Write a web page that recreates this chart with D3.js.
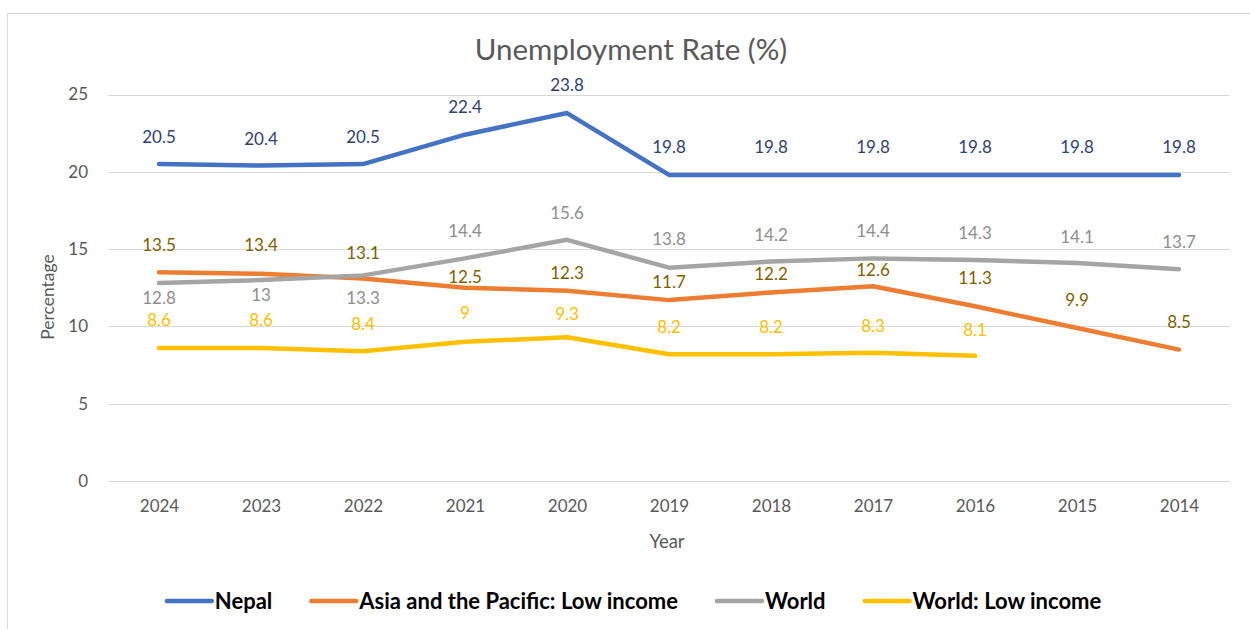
<!DOCTYPE html>
<html>
<head>
<meta charset="utf-8">
<script src="https://cdn.jsdelivr.net/npm/d3@7"></script>
<style>
  html, body { margin: 0; padding: 0; background: #fff; }
  svg { display: block; }
</style>
</head>
<body>
<svg id="chart" width="1250" height="629"></svg>
<script>
// ---- Data ----
const years = ["2024","2023","2022","2021","2020","2019","2018","2017","2016","2015","2014"];
const nepal = [20.5, 20.4, 20.5, 22.4, 23.8, 19.8, 19.8, 19.8, 19.8, 19.8, 19.8];
const asiaPacificLow = [13.5, 13.4, 13.1, 12.5, 12.3, 11.7, 12.2, 12.6, 11.3, 9.9, 8.5];
const world = [12.8, 13, 13.3, 14.4, 15.6, 13.8, 14.2, 14.4, 14.3, 14.1, 13.7];
const worldLow = [8.6, 8.6, 8.4, 9, 9.3, 8.2, 8.2, 8.3, 8.1, null, null];
const seriesNames = ["Nepal", "Asia and the Pacific: Low income", "World", "World: Low income"];
const yTicks = [0, 5, 10, 15, 20, 25];

// ---- Styling / label placement (not data) ----
const lineColors = ["#4472C4", "#ED7D31", "#A5A5A5", "#FFC000"];
const labelColors = ["#2F4170", "#7F6000", "#8E8E8E", "#FFC000"];
// vertical offset of label centre relative to point (px)
const labelOffsets = [
  [-27,-27,-27,-28,-28,-28,-28,-28,-28,-28,-28],
  [-27,-29,-26,-11,-18,-18,-19,-16,-28,-28,-28],
  [ 15, 15, 22,-27,-27,-29,-27,-27,-27,-26,-27],
  [-28,-28,-27,-29,-23,-27,-27,-27,-26,-27,-27]
];

const allSeries = [nepal, asiaPacificLow, world, worldLow];

const svg = d3.select("#chart");
const FONT = "Lato, 'Open Sans', sans-serif";

// frame border
svg.append("rect")
  .attr("x", 7.5).attr("y", 13.5)
  .attr("width", 1260).attr("height", 640)
  .attr("fill", "none").attr("stroke", "#d9d9d9").attr("stroke-width", 1);

const x = d3.scalePoint().domain(years).range([108, 1230]).padding(0.5);
const y = d3.scaleLinear().domain([0, 25]).range([481, 94.5]);

// gridlines
svg.append("g").selectAll("line").data(yTicks).join("line")
  .attr("x1", 108).attr("x2", 1230)
  .attr("y1", d => Math.round(y(d)) + 0.5).attr("y2", d => Math.round(y(d)) + 0.5)
  .attr("stroke", "#d9d9d9").attr("stroke-width", 1);

// y axis labels
const yAxis = d3.axisLeft(y).tickValues(yTicks).tickSize(0).tickPadding(0);
const gy = svg.append("g").attr("transform", "translate(88,0)").call(yAxis);
gy.select(".domain").remove();
gy.selectAll("text").attr("font-family", FONT).attr("font-size", 17).attr("fill", "#595959");

// x axis labels
const xAxis = d3.axisBottom(x).tickSize(0).tickPadding(0);
const gx = svg.append("g").attr("transform", "translate(0,500)").call(xAxis);
gx.select(".domain").remove();
gx.selectAll("text").attr("font-family", FONT).attr("font-size", 17).attr("fill", "#595959").attr("dy", "0.71em");

// title
svg.append("text").attr("x", 631).attr("y", 60).attr("text-anchor", "middle")
  .attr("font-family", FONT).attr("font-size", 29.5).attr("fill", "#595959")
  .text("Unemployment Rate (%)");

// axis titles
svg.append("text").attr("x", 667).attr("y", 548).attr("text-anchor", "middle")
  .attr("font-family", FONT).attr("font-size", 18.5).attr("fill", "#595959").text("Year");
svg.append("text").attr("transform", "translate(54,297) rotate(-90)").attr("text-anchor", "middle")
  .attr("font-family", FONT).attr("font-size", 17.5).attr("fill", "#595959").text("Percentage");

// lines
const line = d3.line()
  .defined(d => d.v !== null)
  .x(d => x(d.year)).y(d => y(d.v));

allSeries.forEach((vals, si) => {
  const pts = years.map((yr, i) => ({ year: yr, v: vals[i], i }));
  svg.append("path").datum(pts)
    .attr("d", line)
    .attr("fill", "none")
    .attr("stroke", lineColors[si])
    .attr("stroke-width", 4.5)
    .attr("stroke-linecap", "round")
    .attr("stroke-linejoin", "round");
});

// labels
allSeries.forEach((vals, si) => {
  const pts = years.map((yr, i) => ({ year: yr, v: vals[i], i })).filter(d => d.v !== null);
  svg.append("g").selectAll("text").data(pts).join("text")
    .attr("x", d => x(d.year))
    .attr("y", d => y(d.v) + labelOffsets[si][d.i])
    .attr("dy", "0.36em")
    .attr("text-anchor", "middle")
    .attr("font-family", FONT).attr("font-size", 17)
    .attr("fill", labelColors[si])
    .text(d => d.v);
});

// legend
const lg = svg.append("g");
let cx = 0;
seriesNames.forEach((name, si) => {
  const g = lg.append("g");
  g.append("line").attr("x1", cx).attr("x2", cx + 45).attr("y1", 0).attr("y2", 0)
    .attr("stroke", lineColors[si]).attr("stroke-width", 4.5).attr("stroke-linecap", "round");
  const t = g.append("text").attr("x", cx + 48).attr("y", 0).attr("dy", "0.35em")
    .attr("font-family", FONT).attr("font-size", 22).attr("font-weight", "bold").attr("fill", "#000")
    .text(name);
  const w = t.node().getComputedTextLength();
  cx += 48 + w + 39;
});
const totalW = cx - 39;
lg.attr("transform", `translate(${634 - totalW / 2},601)`);
</script>
</body>
</html>
